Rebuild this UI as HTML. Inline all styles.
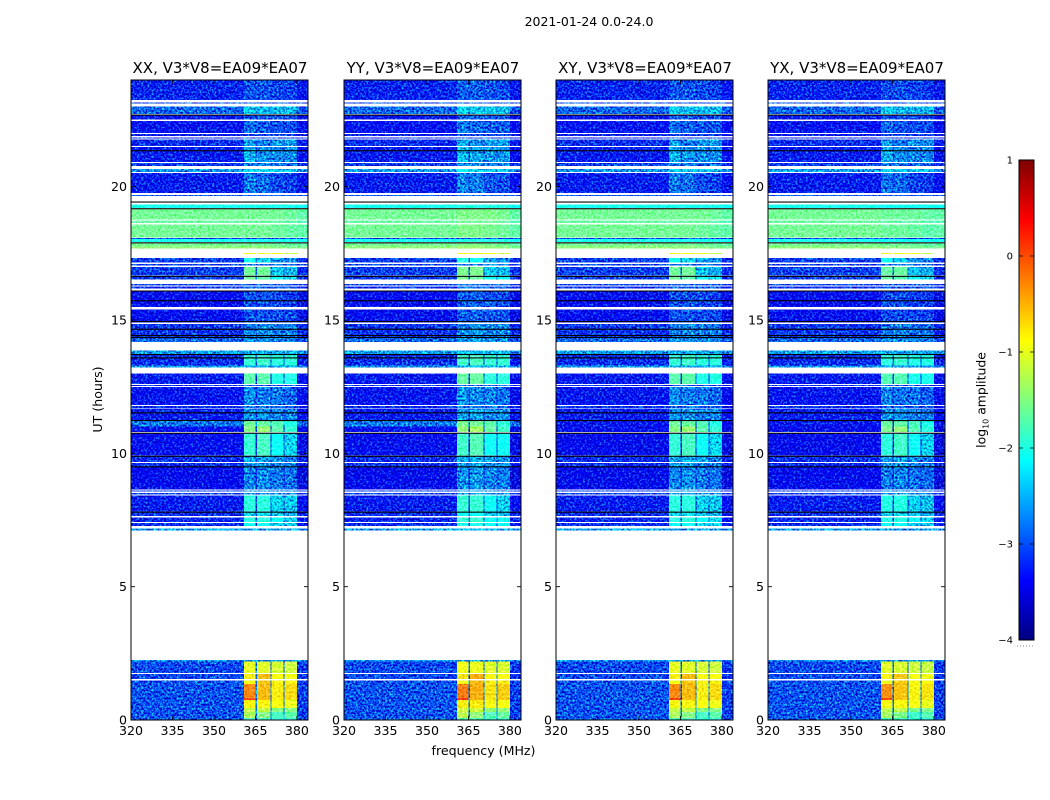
<!DOCTYPE html>
<html>
<head>
<meta charset="utf-8">
<title>2021-01-24 0.0-24.0</title>
<style>
html,body{margin:0;padding:0;background:#fff;width:1050px;height:800px;overflow:hidden}
svg{display:block}
text{font-family:"DejaVu Sans","Liberation Sans",sans-serif;fill:#000}
</style>
</head>
<body>
<svg id="chart" xmlns="http://www.w3.org/2000/svg" width="1050" height="800" viewBox="0 0 1050 800">
  <defs>
    <filter id="speckle" x="0" y="0" width="100%" height="100%" color-interpolation-filters="sRGB">
      <feTurbulence type="fractalNoise" baseFrequency="0.48" numOctaves="2" seed="7" result="n"/>
      <feColorMatrix in="n" type="matrix" values="0.7 0 0 0 0.15  2.0 0 0 0 -0.5  1.0 0 0 0 0  0 0 0 0 1" result="m"/>
      <feComposite in="SourceGraphic" in2="m" operator="arithmetic" k1="0" k2="1" k3="1" k4="-0.53" result="a"/>
      <feComposite in="a" in2="SourceAlpha" operator="in"/>
    </filter>
    <filter id="speckle-soft" x="0" y="0" width="100%" height="100%" color-interpolation-filters="sRGB">
      <feTurbulence type="fractalNoise" baseFrequency="0.48" numOctaves="2" seed="11" result="n"/>
      <feColorMatrix in="n" type="matrix" values="0.8 0 0 0 0.1  0.5 0 0 0 0.3  0.9 0 0 0 0.05  0 0 0 0 1" result="m"/>
      <feComposite in="SourceGraphic" in2="m" operator="arithmetic" k1="0" k2="1" k3="1" k4="-0.47" result="a"/>
      <feComposite in="a" in2="SourceAlpha" operator="in"/>
    </filter>
  </defs>
  <text x="589" y="26" font-size="12.5" text-anchor="middle">2021-01-24 0.0-24.0</text>
  <g id="panels"></g>
  <text x="483.5" y="755" font-size="12.6" text-anchor="middle">frequency (MHz)</text>
  <text x="0" y="0" font-size="12.6" text-anchor="middle" transform="translate(102,399.5) rotate(-90)">UT (hours)</text>
  <g id="colorbar"></g>
  <text x="0" y="0" font-size="12.4" text-anchor="middle" transform="translate(985.5,400) rotate(-90)">log<tspan font-size="8" dy="3">10</tspan><tspan dy="-3"> amplitude</tspan></text>
</svg>
<script>
/* ---------- data: panels ---------- */
const panelNames = ["XX, V3*V8=EA09*EA07","YY, V3*V8=EA09*EA07","XY, V3*V8=EA09*EA07","YX, V3*V8=EA09*EA07"];
const panelIsCrossHand = [0,0,1,1];
const panelGroupShift = [0,0.06,0,-0.04];
const xTickLabels = [320,335,350,365,380];
const yTickLabels = [0,5,10,15,20];
const colorbarTickLabels = [1,0,-1,-2,-3,-4];

/* ---------- data: frequency groups (MHz) ---------- */
const groupStartMHz = [360.8,365.6,370.8,375.5];
const groupEndMHz = [365.1,370.4,375.1,380.0];

/* ---------- data: time bands (UT hours), top to bottom; white gaps are flagged/blank data ---------- */
const bandTopUT = [24,23.15,23.0,22.69,22.47,21.975,21.85,21.76,21.49,20.89,20.67,20.51,19.69,19.34,19.18,18.73,18.59,18.08,18.04,17.89,17.775,17.52,17.325,17.1,16.99,16.63,16.35,16.26,16.09,15.39,14.85,14.36,13.86,13.7,13.29,13.0,12.56,12.49,11.775,11.66,11.23,11.0,10.75,9.9,9.64,9.5,8.6,8.52,8.41,7.8,7.59,7.39,7.19,2.25,2.19,1.725,1.49,1.35,0.825,0.75,0.45,0.3,0.075];
const bandBottomUT = [23.25,23.11,22.725,22.52,22.01,21.9,21.8,21.525,20.925,20.775,20.55,19.76,19.65,19.2,18.77,18.64,18.09,18.05,17.925,17.775,17.675,17.48,17.15,17.04,16.67,16.52,16.3,16.18,15.49,14.9,14.36,14.175,13.725,13.29,13.21,12.6,12.525,11.81,11.69,11.23,11.0,10.8,9.92,9.675,9.51,8.64,8.56,8.45,7.82,7.65,7.425,7.275,7.11,2.19,1.76,1.54,1.35,0.825,0.75,0.45,0.3,0.075,0];
const bandBaseLevel = [-3.2,-3.0,-2.85,-3.3,-3.3,-3.25,-3.25,-3.15,-3.25,-3.05,-2.6,-3.25,-2.9,-2.05,-1.58,-1.65,-1.58,-3.0,-2.05,-1.58,-1.45,null,-3.05,-3.05,-3.05,-3.05,-3.0,-3.15,-3.35,-3.35,-3.1,-2.85,-2.55,-3.15,-2.6,-3.25,-3.15,-3.3,-3.15,-3.25,-2.75,-3.35,-3.35,-3.15,-3.15,-3.4,-3.05,-3.05,-3.25,-3.15,-3.2,-3.15,-2.55,-2.6,-3.0,-3.0,-2.95,-2.95,-2.95,-2.95,-2.95,-2.95,-2.9];
const crossHandBaseShift = [0,0,0,0,0,0,0,0,0,0,0,0,0,0,0,0,0,0,0,0,0,0,0,0,0,0,0,0,0,0,0,0,0,0,0,0,0,0,0,0,-0.55,-0.05,-0.05,0,0,0,0,0,0,0,0,0,0,0,0,0,0,0,0,0,0,0,0];
const group1Level = [-2.95,-3.0,-2.3,-2.95,-2.8,-3.05,-3.05,-2.55,-2.45,-2.7,-2.25,-2.75,-2.9,-2.05,-1.58,-1.65,-1.58,-3.0,-2.05,-1.58,-1.45,-0.9,-2.05,-2.75,-1.6,-1.6,-2.9,-2.85,-2.95,-2.95,-2.75,-2.65,-2.5,-1.9,-2.5,-1.7,-2.95,-2.65,-2.8,-2.6,-1.6,-1.5,-1.9,-2.5,-2.6,-2.7,-2.6,-2.6,-1.95,-2.2,-1.95,-2.1,-2.55,-2.6,-1.0,-0.7,-0.9,-0.2,0.15,-0.75,-1.2,-1.3,-1.8];
const group2Level = [-2.95,-3.0,-2.4,-2.95,-2.9,-3.05,-3.05,-2.75,-2.6,-2.75,-2.3,-2.8,-2.9,-2.05,-1.58,-1.65,-1.58,-3.0,-2.05,-1.58,-1.45,-0.9,-2.25,-2.75,-1.6,-1.7,-2.9,-2.85,-2.95,-2.95,-2.65,-2.65,-2.5,-1.85,-2.5,-1.7,-2.95,-2.75,-2.8,-2.6,-1.65,-1.4,-1.8,-2.5,-2.6,-2.65,-2.6,-2.6,-1.95,-2.2,-1.95,-2.1,-2.55,-2.6,-1.05,-0.45,-0.5,-0.45,-0.45,-0.75,-1.2,-1.5,-1.8];
const group3Level = [-3.0,-3.0,-2.4,-3.0,-2.95,-3.05,-3.05,-2.6,-2.65,-2.8,-2.35,-3.0,-2.9,-2.05,-1.58,-1.65,-1.62,-3.0,-2.05,-1.62,-1.5,-0.9,-2.6,-2.8,-2.35,-2.15,-2.9,-2.9,-3.0,-3.0,-2.75,-2.7,-2.5,-1.95,-2.55,-2.0,-2.95,-2.75,-2.85,-2.7,-1.75,-1.7,-2.15,-2.6,-2.7,-2.75,-2.7,-2.7,-2.25,-2.35,-2.15,-2.25,-2.55,-2.6,-1.1,-0.8,-0.75,-0.7,-0.7,-0.85,-1.5,-1.8,-1.9];
const group4Level = [-3.05,-3.0,-2.4,-3.0,-2.95,-3.05,-3.05,-2.6,-2.65,-2.8,-2.35,-3.05,-2.9,-2.05,-1.62,-1.7,-1.66,-3.0,-2.05,-1.66,-1.55,-1.2,-2.7,-2.8,-2.45,-2.25,-2.9,-2.9,-3.05,-3.0,-2.75,-2.7,-2.5,-1.95,-2.55,-2.0,-2.95,-2.85,-2.95,-2.7,-2.0,-1.9,-2.25,-2.7,-2.7,-2.8,-2.7,-2.7,-2.35,-2.45,-2.25,-2.25,-2.55,-2.6,-1.15,-0.9,-0.75,-0.6,-0.6,-0.95,-1.5,-1.7,-1.9];
const blackLineUT = [22.706,21.368,19.444,19.193,17.914,16.658,16.106,15.743,14.963,14.674,14.438,14.363,13.725,13.6,11.539,11.25,10.774,9.911,9.514,7.815];

/* ---------- scales ---------- */
const NS = "http://www.w3.org/2000/svg";
const panelLefts = [131,344,556,768];
const panelWidth = 177;
const plotTop = 80;
const plotBottom = 720;
const freqMin = 320;
const freqMax = 384;
const utMax = 24;
const GAP_BOOST = 0.2;
const EDGE_DROP = 0.1;
const GAP_BOOST_BELOW = -2.5;
const SOFT_SPECKLE_ABOVE = -2.2;
const levelMin = -4;
const levelMax = 1;
function xScale(left, mhz){ return left + (mhz - freqMin) / (freqMax - freqMin) * panelWidth; }
function yScale(ut){ return plotBottom - ut / utMax * (plotBottom - plotTop); }
function clip01(v){ return Math.max(0, Math.min(1, v)); }
function jet(level){
  const t = clip01((level - levelMin) / (levelMax - levelMin));
  const r = clip01(1.5 - Math.abs(4 * t - 3));
  const g = clip01(1.5 - Math.abs(4 * t - 2));
  const b = clip01(1.5 - Math.abs(4 * t - 1));
  return "rgb(" + Math.round(r * 255) + "," + Math.round(g * 255) + "," + Math.round(b * 255) + ")";
}
function svgEl(tag, attrs, parent){
  const el = document.createElementNS(NS, tag);
  for (const k in attrs) el.setAttribute(k, attrs[k]);
  parent.appendChild(el);
  return el;
}

/* ---------- draw panels ---------- */
const panelsRoot = document.getElementById("panels");
const groupLevels = [group1Level, group2Level, group3Level, group4Level];

panelNames.forEach(function(name, p){
  const left = panelLefts[p];
  const right = left + panelWidth;
  const g = svgEl("g", {}, panelsRoot);
  
  

  const heat = svgEl("g", {filter: "url(#speckle)", "shape-rendering": "crispEdges"}, g);
  
  

  const heatBright = svgEl("g", {filter: "url(#speckle-soft)", "shape-rendering": "crispEdges"}, g);
  
  

  bandTopUT.forEach(function(topUT, b){
    const y0 = yScale(topUT);
    const y1 = yScale(bandBottomUT[b]);
    const h = Math.max(1, y1 - y0);
    const rawBase = bandBaseLevel[b];
    function drawCell(f0, f1, level){
      const x0 = xScale(left, f0);
      const x1 = xScale(left, f1);
      const cell = svgEl("rect", {x: x0.toFixed(2), y: y0.toFixed(2), width: (x1 - x0).toFixed(2), height: h.toFixed(2), fill: jet(level)}, level > SOFT_SPECKLE_ABOVE ? heatBright : heat);
      
      
    }
    const base = rawBase === null ? null : rawBase + panelIsCrossHand[p] * crossHandBaseShift[b];
    if (base !== null) {
      drawCell(freqMin, groupStartMHz[0], base);
      drawCell(groupEndMHz[3], freqMax, base - EDGE_DROP);
    }
    groupStartMHz.forEach(function(start, c){
      const level = groupLevels[c][b] + panelGroupShift[p];
      drawCell(start, groupEndMHz[c], level);
      if (c < groupStartMHz.length - 1 && base !== null) {
        drawCell(groupEndMHz[c], groupStartMHz[c + 1], base < GAP_BOOST_BELOW ? base + GAP_BOOST : base);
      }
    });
  });

  blackLineUT.forEach(function(ut){
    const line = svgEl("rect", {x: left, y: yScale(ut).toFixed(2), width: panelWidth, height: 1.1, fill: "#000"}, g);
    
    
  });

  const frame = svgEl("rect", {x: left, y: plotTop, width: panelWidth, height: plotBottom - plotTop, fill: "none", stroke: "#000", "stroke-width": 1}, g);
  
  

  const title = svgEl("text", {x: left + panelWidth / 2 + 0.5, y: 73, "font-size": 15, "text-anchor": "middle"}, g);
  title.textContent = name;
  
  

  xTickLabels.forEach(function(v){
    const x = xScale(left, v);
    svgEl("path", {d: "M" + x + " " + plotBottom + "v-4M" + x + " " + plotTop + "v4", stroke: "#000", "stroke-width": 0.8, fill: "none"}, g);
    const t = svgEl("text", {x: x, y: 735, "font-size": 12.6, "text-anchor": "middle"}, g);
    t.textContent = v;
    
    
  });

  yTickLabels.forEach(function(v){
    const y = yScale(v);
    svgEl("path", {d: "M" + left + " " + y + "h4M" + right + " " + y + "h-4", stroke: "#000", "stroke-width": 0.8, fill: "none"}, g);
    const t = svgEl("text", {x: left - 4, y: y + 4.5, "font-size": 12.6, "text-anchor": "end"}, g);
    t.textContent = v;
    
    
  });
});

/* ---------- draw colour bar ---------- */
const cbRoot = document.getElementById("colorbar");
const cbLeft = 1019;
const cbWidth = 15;
const cbTop = 160;
const cbBottom = 640;
function cbScale(level){ return cbBottom - (level - levelMin) / (levelMax - levelMin) * (cbBottom - cbTop); }
const cbSteps = 240;
const cbFill = svgEl("g", {"shape-rendering": "crispEdges"}, cbRoot);


for (let i = 0; i < cbSteps; i++) {
  const level = levelMin + (i + 0.5) / cbSteps * (levelMax - levelMin);
  const yHi = cbScale(levelMin + (i + 1) / cbSteps * (levelMax - levelMin));
  svgEl("rect", {x: cbLeft, y: yHi, width: cbWidth, height: (cbBottom - cbTop) / cbSteps + 0.3, fill: jet(level)}, cbFill);
}
const cbFrame = svgEl("rect", {x: cbLeft, y: cbTop, width: cbWidth, height: cbBottom - cbTop, fill: "none", stroke: "#000", "stroke-width": 1}, cbRoot);


colorbarTickLabels.forEach(function(v){
  const y = cbScale(v);
  svgEl("path", {d: "M" + cbLeft + " " + y + "h4M" + (cbLeft + cbWidth) + " " + y + "h-4", stroke: "#000", "stroke-width": 0.8, fill: "none"}, cbRoot);
  const t = svgEl("text", {x: cbLeft - 6, y: y + 3.5, "font-size": 10, "text-anchor": "end"}, cbRoot);
  t.textContent = String(v).replace("-", "\u2212");
  
  
});
const cbDots = svgEl("line", {x1: cbLeft - 2, x2: cbLeft + cbWidth, y1: 646, y2: 646, stroke: "#888", "stroke-width": 1, "stroke-dasharray": "1 2"}, cbRoot);


</script>
</body>
</html>
